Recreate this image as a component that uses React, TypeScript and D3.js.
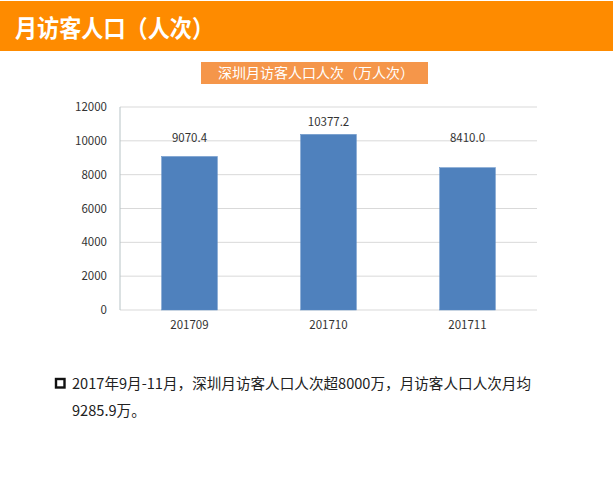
import React from "react";
import * as d3 from "d3";

const categories = ["201709", "201710", "201711"];
const values = [9070.4, 10377.2, 8410.0];
const yTicks = [0, 2000, 4000, 6000, 8000, 10000, 12000];
const pageTitle = "月访客人口（人次）";
const chartTitle = "深圳月访客人口人次（万人次）";
const noteLine1 = "2017年9月-11月，深圳月访客人口人次超8000万，月访客人口人次月均";
const noteLine2 = "9285.9万。";

const FONT = "'Noto Sans CJK SC', 'Noto Sans', sans-serif";

export default function App() {
  const left = 120, right = 537, top = 107, bottom = 310;
  const x = d3.scaleBand<string>().domain(categories).range([left, right]).paddingInner(0.6).paddingOuter(0.3);
  const y = d3.scaleLinear().domain([0, 12000]).range([bottom, top]);
  const labelCap = y(10000) + 1;

  return (
    <svg width={613} height={480} style={{ position: "absolute", left: 0, top: 0, background: "#fff" }}>
      <rect x={0} y={1} width={613} height={50} fill="#FE8B00" />
      <text x={15} y={37} fill="#fff" fontFamily={FONT} fontWeight="bold" fontSize={24} textLength={199} lengthAdjust="spacingAndGlyphs">{pageTitle}</text>

      <rect x={201} y={62} width={227} height={22} fill="#F5964A" />
      <text x={316} y={78} textAnchor="middle" fill="#fff" fontFamily={FONT} fontSize={14}>{chartTitle}</text>

      {yTicks.map(t => (
        <g key={t}>
          <line x1={left} x2={right} y1={y(t)} y2={y(t)} stroke="#D9D9D9" strokeWidth={1} />
          <text x={107} y={y(t) + 4} textAnchor="end" fill="#333" fontFamily={FONT} fontSize={11.5}>{t}</text>
        </g>
      ))}
      <line x1={left} x2={left} y1={top} y2={bottom} stroke="#B7C3C6" strokeWidth={1} />

      {categories.map((c, i) => {
        const v = values[i];
        const bx = x(c)!;
        const cx = bx + x.bandwidth() / 2;
        const ly = Math.min(y(v) - 8, labelCap);
        return (
          <g key={c}>
            <rect x={bx} y={y(v)} width={x.bandwidth()} height={bottom - y(v)} fill="#4F81BD" stroke="#5A8AC4" strokeWidth={0.5} />
            <text x={cx} y={ly} textAnchor="middle" fill="#333" fontFamily={FONT} fontSize={11.5}>{v.toFixed(1)}</text>
            <text x={cx} y={bottom + 19} textAnchor="middle" fill="#333" fontFamily={FONT} fontSize={11.5}>{c}</text>
          </g>
        );
      })}

      <rect x={56} y={379} width={8.5} height={8.5} fill="none" stroke="#111" strokeWidth={2.4} />
      <text x={72} y={389} fill="#222" fontFamily={FONT} fontSize={14.6}>{noteLine1}</text>
      <text x={72} y={416} fill="#222" fontFamily={FONT} fontSize={14.6}>{noteLine2}</text>
    </svg>
  );
}
